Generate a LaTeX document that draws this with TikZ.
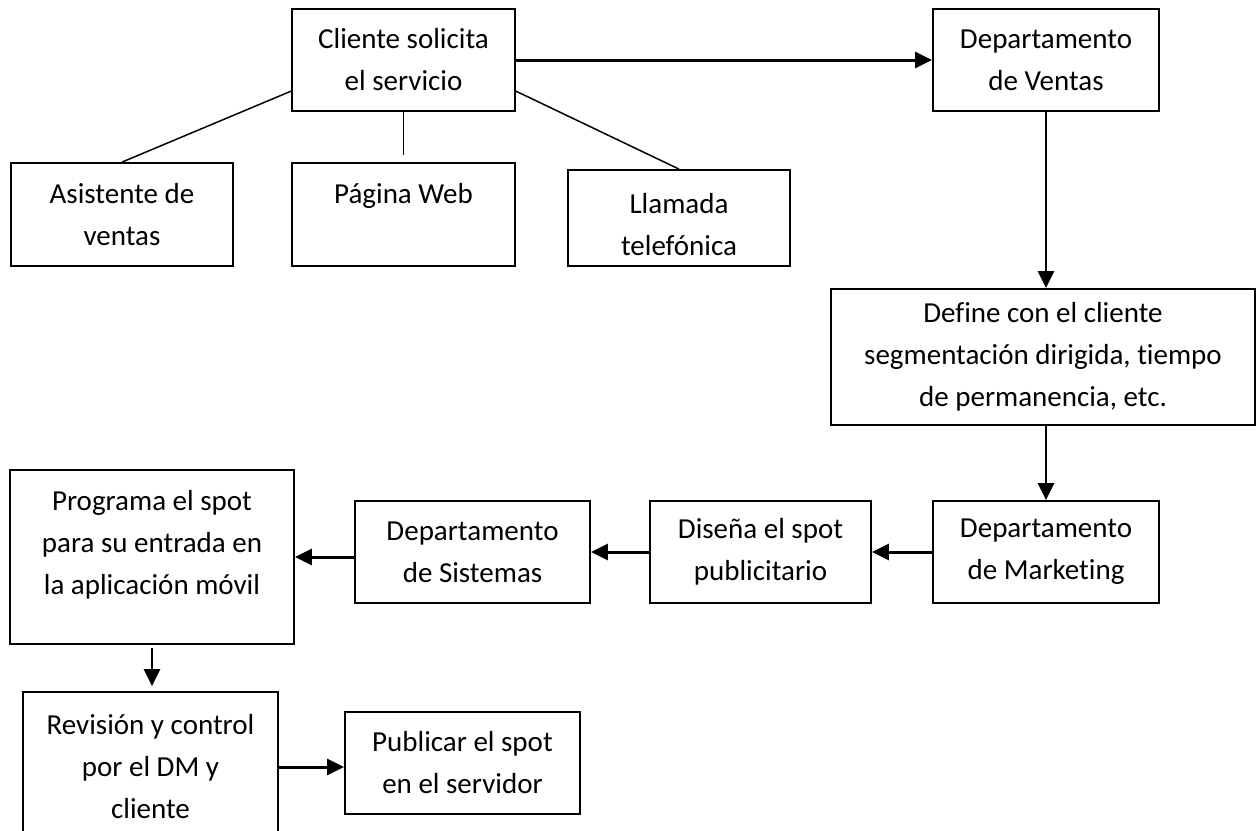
\documentclass[tikz,border=0pt]{standalone}
\usepackage{fontspec}
\setmainfont{Carlito}[Ligatures=NoCommon]
\usetikzlibrary{arrows.meta,calc}
\begin{document}
\begin{tikzpicture}[x=1pt,y=-1pt,
  box/.style={draw,line width=1.8pt,inner sep=0pt,align=center,
    font=\fontsize{29}{42}\selectfont},
  plain/.style={line width=1.5pt},
  arr/.style={line width=3pt,-{Triangle[length=17pt,width=16pt]}}]
\useasboundingbox (0,0) rectangle (1257,830);
\node[box,minimum width=223pt,minimum height=102pt] (cliente) at (403.5,60) {Cliente solicita\\el servicio};
\node[box,minimum width=222pt,minimum height=103pt] (asist) at (122,214.5) {Asistente de\\ventas};
\node[box,minimum width=223pt,minimum height=103pt] (pagina) at (403.5,214.5) {Página Web\\\mbox{}};
\node[box,minimum width=222pt,minimum height=96pt] (llamada) at (679,218) {\rule{0pt}{34pt}Llamada\\telefónica};
\node[box,minimum width=226pt,minimum height=102pt] (ventas) at (1046,60) {Departamento\\de Ventas};
\node[box,minimum width=424pt,minimum height=136pt] (define) at (1043,357) {Define con el cliente\\segmentación dirigida, tiempo\\de permanencia, etc.};
\node[box,minimum width=226pt,minimum height=102pt] (marketing) at (1046,552) {Departamento\\de Marketing};
\node[box,minimum width=221pt,minimum height=102pt] (disena) at (760.5,552) {Diseña el spot\\publicitario};
\node[box,minimum width=235pt,minimum height=102pt] (sistemas) at (472.5,552) {Departamento\\de Sistemas};
\node[box,minimum width=284pt,minimum height=174pt] (programa) at (152,557) {\rule{0pt}{32pt}Programa el spot\\para su entrada en\\la aplicación móvil\\\mbox{}};
\node[box,minimum width=255pt,minimum height=150pt] (revision) at (150.5,767) {Revisión y control\\por el DM y\\cliente};
\node[box,minimum width=235pt,minimum height=102pt] (publicar) at (462.5,763) {Publicar el spot\\en el servidor};

\coordinate (pw) at ($(pagina.north)+(0,-7)$);
\coordinate (sw) at ($(sistemas.west)+(0,5)$);
\draw[plain] ($(cliente.south west)!0.2!(cliente.north west)$) -- (asist.north);
\draw[plain] (cliente.south) -- (pw);
\draw[plain] ($(cliente.south east)!0.2!(cliente.north east)$) -- (llamada.north);

\draw[arr] (cliente.east) -- (ventas.west);
\draw[arr,line width=2.5pt] (ventas.south) -- (ventas.south |- define.north);
\draw[arr,line width=2.5pt] (define.south -| ventas.south) -- (marketing.north);
\draw[arr] (marketing.west) -- (disena.east);
\draw[arr] (disena.west) -- (sistemas.east);
\draw[arr] (sw) -- (sw -| programa.east);
\draw[arr,line width=2.5pt,shorten <=3pt,shorten >=5pt] (programa.south) -- (programa.south |- revision.north);
\draw[arr] (revision.east) -- (revision.east -| publicar.west);
\end{tikzpicture}
\end{document}
